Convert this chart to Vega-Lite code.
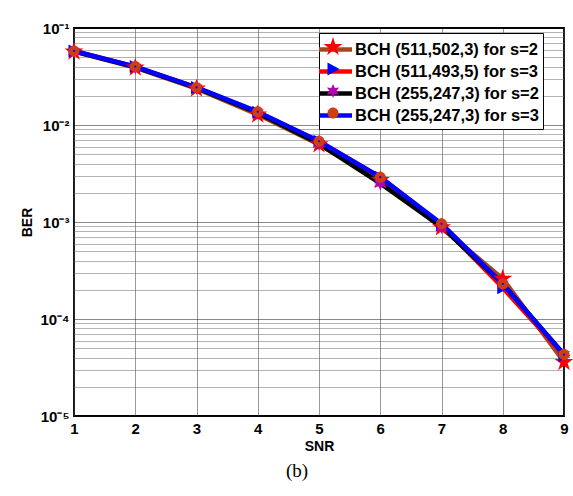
{
  "$schema": "https://vega.github.io/schema/vega-lite/v6.json",
  "width": 490,
  "height": 388,
  "autosize": {"type": "none"},
  "padding": {"left": 74, "top": 28, "right": 9, "bottom": 80},
  "background": "white",
  "title": {"text": "(b)", "orient": "bottom", "font": "Liberation Serif", "fontSize": 19, "fontWeight": "normal", "color": "#000", "anchor": "middle", "offset": 9, "dx": -22},
  "config": {
    "view": {"stroke": "#000", "strokeWidth": 1.8},
    "axis": {"labelFont": "Liberation Sans", "labelFontWeight": "bold", "labelColor": "#000", "titleFont": "Liberation Sans", "titleFontWeight": "bold", "titleColor": "#000", "domain": false, "ticks": false}
  },
  "data": {"values": [
    {"snr": 1, "ber": 0.057, "series": "BCH (511,502,3) for s=2"},
    {"snr": 2, "ber": 0.039, "series": "BCH (511,502,3) for s=2"},
    {"snr": 3, "ber": 0.0237, "series": "BCH (511,502,3) for s=2"},
    {"snr": 4, "ber": 0.0128, "series": "BCH (511,502,3) for s=2"},
    {"snr": 5, "ber": 0.0063, "series": "BCH (511,502,3) for s=2"},
    {"snr": 6, "ber": 0.0027, "series": "BCH (511,502,3) for s=2"},
    {"snr": 7, "ber": 0.00088, "series": "BCH (511,502,3) for s=2"},
    {"snr": 8, "ber": 0.00026, "series": "BCH (511,502,3) for s=2"},
    {"snr": 9, "ber": 0.000036, "series": "BCH (511,502,3) for s=2"},
    {"snr": 1, "ber": 0.058, "series": "BCH (511,493,5) for s=3"},
    {"snr": 2, "ber": 0.040, "series": "BCH (511,493,5) for s=3"},
    {"snr": 3, "ber": 0.0243, "series": "BCH (511,493,5) for s=3"},
    {"snr": 4, "ber": 0.0135, "series": "BCH (511,493,5) for s=3"},
    {"snr": 5, "ber": 0.0068, "series": "BCH (511,493,5) for s=3"},
    {"snr": 6, "ber": 0.0029, "series": "BCH (511,493,5) for s=3"},
    {"snr": 7, "ber": 0.00093, "series": "BCH (511,493,5) for s=3"},
    {"snr": 8, "ber": 0.00021, "series": "BCH (511,493,5) for s=3"},
    {"snr": 9, "ber": 0.000042, "series": "BCH (511,493,5) for s=3"},
    {"snr": 1, "ber": 0.0575, "series": "BCH (255,247,3) for s=2"},
    {"snr": 2, "ber": 0.0395, "series": "BCH (255,247,3) for s=2"},
    {"snr": 3, "ber": 0.0241, "series": "BCH (255,247,3) for s=2"},
    {"snr": 4, "ber": 0.0133, "series": "BCH (255,247,3) for s=2"},
    {"snr": 5, "ber": 0.0064, "series": "BCH (255,247,3) for s=2"},
    {"snr": 6, "ber": 0.0025, "series": "BCH (255,247,3) for s=2"},
    {"snr": 7, "ber": 0.00089, "series": "BCH (255,247,3) for s=2"},
    {"snr": 8, "ber": 0.00023, "series": "BCH (255,247,3) for s=2"},
    {"snr": 9, "ber": 0.000043, "series": "BCH (255,247,3) for s=2"},
    {"snr": 1, "ber": 0.058, "series": "BCH (255,247,3) for s=3"},
    {"snr": 2, "ber": 0.040, "series": "BCH (255,247,3) for s=3"},
    {"snr": 3, "ber": 0.0244, "series": "BCH (255,247,3) for s=3"},
    {"snr": 4, "ber": 0.0137, "series": "BCH (255,247,3) for s=3"},
    {"snr": 5, "ber": 0.0068, "series": "BCH (255,247,3) for s=3"},
    {"snr": 6, "ber": 0.0029, "series": "BCH (255,247,3) for s=3"},
    {"snr": 7, "ber": 0.00096, "series": "BCH (255,247,3) for s=3"},
    {"snr": 8, "ber": 0.00023, "series": "BCH (255,247,3) for s=3"},
    {"snr": 9, "ber": 0.000043, "series": "BCH (255,247,3) for s=3"}
  ]},
  "encoding": {
    "x": {"field": "snr", "type": "quantitative", "scale": {"domain": [1, 9], "nice": false},
      "axis": {"values": [1,2,3,4,5,6,7,8,9], "title": "SNR", "titleFontSize": 14, "titlePadding": 3, "labelFontSize": 15, "labelPadding": 5, "grid": true, "gridColor": "#333", "gridDash": [1, 1], "gridWidth": 1, "labelFlush": false}},
    "y": {"field": "ber", "type": "quantitative", "scale": {"type": "log", "domain": [0.00001, 0.1], "nice": false},
      "axis": {"values": [0.00001,0.00002,0.00003,0.00004,0.00005,0.00006,0.00007,0.00008,0.00009,0.0001,0.0002,0.0003,0.0004,0.0005,0.0006,0.0007,0.0008,0.0009,0.001,0.002,0.003,0.004,0.005,0.006,0.007,0.008,0.009,0.01,0.02,0.03,0.04,0.05,0.06,0.07,0.08,0.09,0.1],
        "labelExpr": "datum.value == 0.1 ? '10⁻¹' : datum.value == 0.01 ? '10⁻²' : datum.value == 0.001 ? '10⁻³' : datum.value == 0.0001 ? '10⁻⁴' : datum.value == 0.00001 ? '10⁻⁵' : ''",
        "title": "BER", "titleFontSize": 14, "titlePadding": 5, "labelFontSize": 15, "labelPadding": 5, "grid": true,
        "gridColor": {"condition": {"test": "datum.value == 0.1 || datum.value == 0.01 || datum.value == 0.001 || datum.value == 0.0001 || datum.value == 0.00001", "value": "#111"}, "value": "#666"},
        "gridDash": [1, 1], "gridWidth": 1, "labelFlush": false, "labelOverlap": false}}
  },
  "layer": [
    {
      "mark": {"type": "line", "strokeWidth": 4.5},
      "encoding": {
        "stroke": {"field": "series", "type": "nominal",
          "scale": {"domain": ["BCH (511,502,3) for s=2", "BCH (511,493,5) for s=3", "BCH (255,247,3) for s=2", "BCH (255,247,3) for s=3"], "range": ["#a3481c", "#ff0000", "#000000", "#0000ff"]},
          "legend": {"orient": "none", "legendX": 245, "legendY": 5, "title": null, "symbolType": "M-1.65,0H1.65", "symbolSize": 400, "symbolStrokeWidth": 4.5, "labelFont": "Liberation Sans", "labelFontSize": 16.5, "labelFontWeight": "bold", "labelColor": "#000", "strokeColor": "#000", "fillColor": "#fff", "padding": 4, "rowPadding": 0, "labelOffset": 7, "labelLimit": 0}}
      }
    },
    {
      "mark": {"type": "point", "filled": true, "size": 400, "opacity": 1, "strokeWidth": 0},
      "encoding": {
        "fill": {"field": "series", "type": "nominal", "sort": null,
          "scale": {"range": ["#ff0000", "#0000ff", "#b400b4", "#d23c14"]},
          "legend": {"orient": "none", "legendX": 245, "legendY": 5, "title": null, "symbolSize": 400, "symbolStrokeWidth": 0, "labelFont": "Liberation Sans", "labelFontSize": 16.5, "labelFontWeight": "bold", "labelExpr": "''", "padding": 4, "rowPadding": 2, "labelOffset": 7, "labelLimit": 0}},
        "shape": {"field": "series", "type": "nominal", "sort": null,
          "scale": {"range": ["M-1.65,-1M1.65,1M0,-1L0.2245,-0.309L0.951,-0.309L0.363,0.118L0.588,0.809L0,0.382L-0.588,0.809L-0.363,0.118L-0.951,-0.309L-0.2245,-0.309Z", "M-1.65,-1M1.65,1M-0.55,-0.65L0.65,0L-0.55,0.65Z", "M-1.65,-1M1.65,1M0,-0.7L0.175,-0.303L0.606,-0.35L0.35,0L0.606,0.35L0.175,0.303L0,0.7L-0.175,0.303L-0.606,0.35L-0.35,0L-0.606,-0.35L-0.175,-0.303Z", "M-1.65,-1M1.65,1M-0.55,0A0.55,0.55,0,1,0,0.55,0A0.55,0.55,0,1,0,-0.55,0Z"]},
          "legend": {"orient": "none", "legendX": 245, "legendY": 5, "title": null, "symbolSize": 400, "symbolStrokeWidth": 0, "labelFont": "Liberation Sans", "labelFontSize": 16.5, "labelFontWeight": "bold", "labelExpr": "''", "padding": 4, "rowPadding": 2, "labelOffset": 7, "labelLimit": 0}}
      }
    },
    {
      "transform": [{"filter": "datum.series == 'BCH (255,247,3) for s=3'"}],
      "mark": {"type": "point", "filled": true, "size": 5, "color": "#0000ff", "opacity": 1, "shape": "circle"},
      "encoding": {}
    }
  ]
}
